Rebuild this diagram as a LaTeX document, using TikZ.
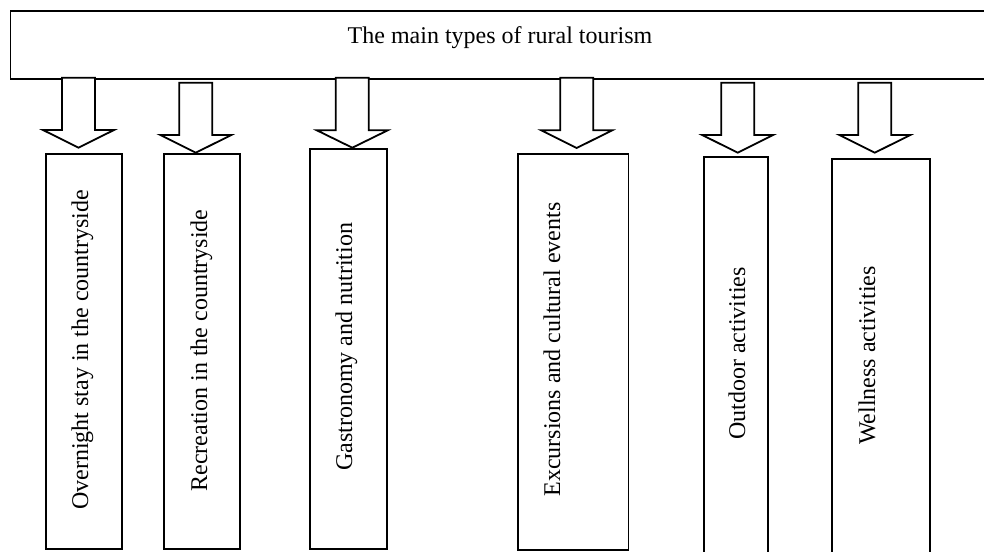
\documentclass[tikz,border=0pt]{standalone}
\usepackage{fontspec}
\setmainfont{Liberation Serif}
\newcommand{\blockarr}[4]{%
  \draw[blk] (#1-16.5,#2) -- (#1-16.5,#3) -- (#1-35.5,#3) -- (#1,#4)
    -- (#1+35.5,#3) -- (#1+16.5,#3) -- (#1+16.5,#2) -- cycle;}
\begin{document}
\begin{tikzpicture}[x=1pt,y=-1pt,
  box/.style={draw, line width=1.8pt, inner sep=0pt, anchor=north west},
  blk/.style={draw, line width=1.8pt, fill=white, line join=miter},
  vtext/.style={rotate=90, anchor=base west, inner sep=0pt, font=\fontsize{24}{28}\selectfont},
  ttext/.style={anchor=base, inner sep=0pt, font=\fontsize{24}{28}\selectfont}]
\useasboundingbox (0,0) rectangle (984,551);
\begin{scope}
\clip (0,0) rectangle (984,551);
% top box
\node[box, minimum width=1000pt, minimum height=67.7pt] (top) at (9.5,10) {};
\node[ttext] (toptext) at (500,43.3) {The main types of rural tourism};
% boxes
\node[box, minimum width=76.3pt, minimum height=395pt] (b1) at (45,152.7) {};
\node[box, minimum width=76.6pt, minimum height=395.6pt] (b2) at (162.7,152.7) {};
\node[box, minimum width=76.7pt, minimum height=400pt] (b3) at (309,147.7) {};
\node[box, minimum width=110.5pt, minimum height=396pt] (b4) at (517,152.7) {};
\node[box, minimum width=64.3pt, minimum height=420pt] (b5) at (702.7,156) {};
\node[box, minimum width=98.2pt, minimum height=420pt] (b6) at (831,157.7) {};
% block arrows
\blockarr{78.5}{77.7}{130}{147.7}
\blockarr{195.8}{82.7}{135}{152.7}
\blockarr{352.3}{77.7}{130.3}{147.7}
\blockarr{576.7}{77.7}{130.3}{148}
\blockarr{737.7}{82.7}{135}{152.7}
\blockarr{874.8}{82.7}{135}{152.7}
% texts
\node[vtext] (t1) at (88,510) {Overnight stay in the countryside};
\node[vtext] (t2) at (207,491.7) {Recreation in the countryside};
\node[vtext] (t3) at (352,471) {Gastronomy and nutrition};
\node[vtext] (t4) at (560,496.7) {Excursions and cultural events};
\node[vtext] (t5) at (745,440) {Outdoor activities};
\node[vtext] (t6) at (875,445) {Wellness activities};
\end{scope}
\end{tikzpicture}
\end{document}
